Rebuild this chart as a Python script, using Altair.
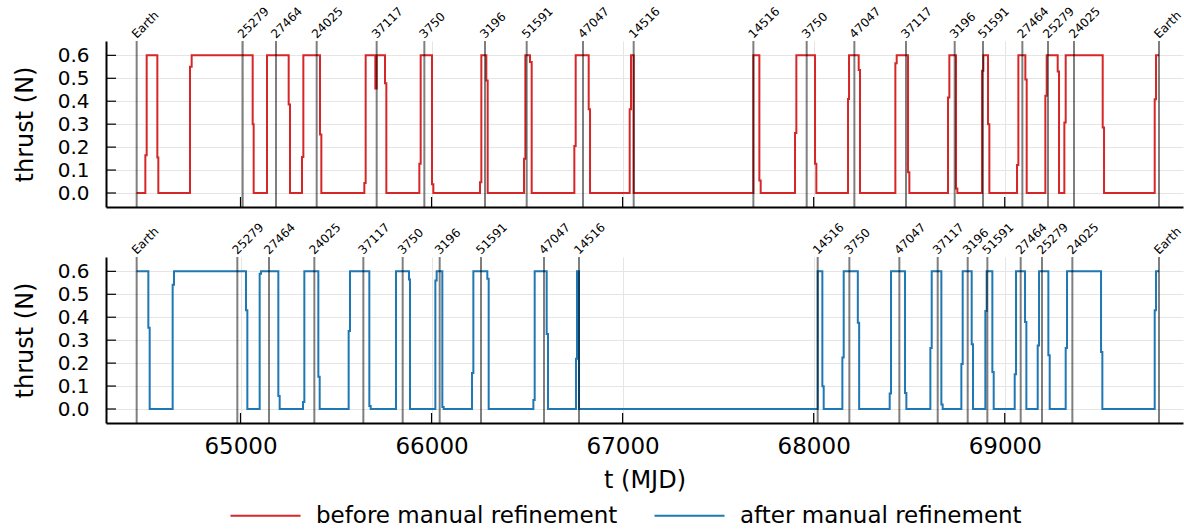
import altair as alt
import pandas as pd

# Thrust profiles as step breakpoints: thrust holds from each time until the next one
red_t = [64456.5, 64501.9, 64508.9, 64564.7, 64569.9, 64735.7, 64744.4, 65063.7, 65068.9,
         65138.7, 65252.1, 65259.1, 65321.9, 65328.9, 65416.1, 65423.1, 65648.1, 65655.1,
         65705.7, 65712.7, 65756.3, 65763.3, 65936.0, 65943.0, 66002.3, 66009.3, 66253.6,
         66260.5, 66286.7, 66293.7, 66483.9, 66490.9, 66515.3, 66524.0, 66747.3, 66754.3,
         66822.4, 66829.4, 67037.0, 67043.9, 67057.9, 67684.3, 67715.7, 67722.6, 67902.3,
         67909.3, 68007.0, 68014.0, 68179.7, 68185.0, 68235.6, 68242.5, 68427.5, 68434.5,
         68493.8, 68500.8, 68703.1, 68710.1, 68745.0, 68752.0, 68881.1, 68888.1, 68912.5,
         68919.5, 69064.3, 69071.3, 69107.9, 69114.9, 69212.6, 69219.6, 69277.2, 69284.1,
         69312.0, 69319.0, 69512.7, 69519.7, 69784.9, 69791.8, 69807.5]
red_f = [0, 0.165, 0.6, 0.155, 0, 0.55, 0.6, 0.30, 0,
         0.6, 0.386, 0, 0.157, 0.6, 0.255, 0, 0.044, 0.6,
         0.456, 0.6, 0.478, 0, 0.128, 0.6, 0.038, 0, 0.047,
         0.6, 0.49, 0, 0.149, 0.6, 0.571, 0, 0.205, 0.6,
         0.365, 0, 0.365, 0.6, 0, 0.6, 0.055, 0, 0.262,
         0.6, 0.128, 0, 0.41, 0.6, 0.536, 0, 0.565, 0.6,
         0.09, 0, 0.416, 0.6, 0.02, 0, 0.533, 0.6, 0.30,
         0, 0.122, 0.6, 0.495, 0, 0.424, 0.6, 0.53, 0,
         0.307, 0.6, 0.285, 0, 0.409, 0.6, 0.6]

blue_t = [64456.5, 64517.6, 64524.6, 64644.9, 64651.9, 65028.8, 65035.8, 65100.3, 65107.3,
          65198.0, 65205.0, 65327.1, 65334.1, 65407.4, 65414.4, 65566.1, 65573.1, 65674.3,
          65681.3, 65813.9, 65881.9, 65887.2, 66019.8, 66026.7, 66056.4, 66063.4, 66211.7,
          66218.7, 66291.9, 66298.9, 66532.8, 66539.7, 66602.5, 66609.5, 66756.1, 66761.3,
          66771.8, 68021.0, 68045.4, 68052.4, 68150.1, 68157.1, 68231.0, 68238.0, 68397.8,
          68404.8, 68478.1, 68485.1, 68610.7, 68617.7, 68668.3, 68675.2, 68772.9, 68779.9,
          68827.0, 68834.0, 68898.5, 68905.5, 68935.2, 68942.2, 69052.1, 69059.1, 69106.2,
          69113.2, 69172.5, 69179.5, 69228.3, 69235.3, 69319.0, 69326.0, 69504.0, 69510.9,
          69784.9, 69791.8, 69807.5]
blue_f = [0.6, 0.354, 0, 0.542, 0.6, 0.43, 0, 0.59, 0.6,
          0.057, 0, 0.03, 0.6, 0.141, 0, 0.34, 0.6, 0.013,
          0, 0.6, 0.564, 0, 0.56, 0.6, 0.009, 0, 0.157,
          0.6, 0.568, 0, 0.039, 0.6, 0.327, 0, 0.219, 0.6,
          0, 0.6, 0.099, 0, 0.224, 0.6, 0.376, 0, 0.068,
          0.6, 0.07, 0, 0.266, 0.6, 0.02, 0, 0.196, 0.6,
          0.282, 0, 0.427, 0.6, 0.161, 0, 0.151, 0.6, 0.379,
          0, 0.277, 0.6, 0.234, 0, 0.266, 0.6, 0.248, 0,
          0.43, 0.6, 0.6]

# Encounter epochs (MJD) and bodies
event_names = ["Earth", "25279", "27464", "24025", "37117", "3750", "3196", "51591", "47047",
               "14516", "14516", "3750", "47047", "37117", "3196", "51591", "27464", "25279",
               "24025", "Earth"]
before_events = [64456.5, 65011.3, 65185.8, 65398.7, 65712.7, 65962.2, 66279.7, 66497.9,
                 66792.7, 67057.9, 67684.3, 67963.4, 68212.9, 68483.3, 68738.0, 68886.3,
                 69092.2, 69226.5, 69362.6, 69807.5]
after_events = [64456.5, 64983.4, 65149.2, 65386.4, 65642.9, 65848.8, 66042.5, 66258.8,
                66588.6, 66771.8, 68021.0, 68186.7, 68448.4, 68649.1, 68806.1, 68909.0,
                69083.5, 69195.1, 69353.9, 69807.5]

series_names = ["before manual refinement", "after manual refinement"]
series_colors = ["#d62728", "#1f77b4"]

x_ticks = [65000, 66000, 67000, 68000, 69000]
y_ticks = [0.0, 0.1, 0.2, 0.3, 0.4, 0.5, 0.6]

X_DOMAIN = [64296, 69933]
Y_DOMAIN = [-0.061, 0.6625]
W, H = 1077, 166
FONT = "DejaVu Sans"

xscale = alt.Scale(domain=X_DOMAIN, nice=False, zero=False)
yscale = alt.Scale(domain=Y_DOMAIN, nice=False, zero=False)
color_scale = alt.Scale(domain=series_names, range=series_colors)

legend = alt.Legend(
    orient="none", legendX=148, legendY=463, direction="horizontal", title=None,
    symbolType="M-7,0L7,0", symbolSize=100, symbolStrokeWidth=2,
    labelFontSize=23, labelFont=FONT, labelOffset=39, labelLimit=0, columnPadding=32,
    labelColor="black",
)


def make_x_axis(show):
    return alt.Axis(
        values=x_ticks, format="d", grid=True, gridColor="#e5e5e5", gridWidth=1,
        ticks=False, domain=True, domainColor="black", domainWidth=2,
        labels=show, labelFontSize=23, labelFont=FONT, labelPadding=12,
        labelColor="black",
        title="t (MJD)" if show else "", titleFontSize=24, titleFont=FONT,
        titleFontWeight="normal", titlePadding=10, titleColor="black",
    )


y_axis = alt.Axis(
    values=y_ticks, format=".1f", grid=True, gridColor="#e5e5e5", gridWidth=1,
    ticks=False, domain=True, domainColor="black", domainWidth=2,
    labelFontSize=20, labelFont=FONT, labelPadding=17, labelColor="black",
    title="thrust (N)", titleFontSize=24, titleFont=FONT, titleFontWeight="normal",
    titlePadding=20, titleColor="black",
)


def panel(times, thrust, name, events, show_x):
    line_df = pd.DataFrame({"t": times, "thrust": thrust, "series": name})
    ev_df = pd.DataFrame({"t": events, "body": event_names})
    xt_df = pd.DataFrame({"t": x_ticks})
    yt_df = pd.DataFrame({"thrust": y_ticks})
    x_axis = make_x_axis(show_x)

    base_line = alt.Chart(line_df).mark_line(
        interpolate="step-after", strokeWidth=2
    ).encode(
        x=alt.X("t:Q", scale=xscale, axis=x_axis),
        y=alt.Y("thrust:Q", scale=yscale, axis=y_axis),
        color=alt.Color("series:N", scale=color_scale, legend=legend),
    )

    rules = alt.Chart(ev_df).mark_rule(color="black", opacity=0.5, strokeWidth=2).encode(
        x=alt.X("t:Q", scale=xscale, axis=x_axis),
    )

    labels = alt.Chart(ev_df).mark_text(
        angle=315, align="left", baseline="alphabetic", fontSize=12, font=FONT,
        color="black",
    ).encode(
        x=alt.X("t:Q", scale=xscale, axis=x_axis),
        y=alt.value(-2),
        text="body:N",
    )

    # inward-pointing tick marks on both axes
    xt = alt.Chart(xt_df).mark_rule(color="black", strokeWidth=1.2).encode(
        x=alt.X("t:Q", scale=xscale, axis=x_axis),
        y=alt.value(H),
        y2=alt.value(H - 10),
    )
    yt = alt.Chart(yt_df).mark_rule(color="black", strokeWidth=1.2).encode(
        y=alt.Y("thrust:Q", scale=yscale, axis=y_axis),
        x=alt.value(0),
        x2=alt.value(10),
    )

    return alt.layer(base_line, rules, xt, yt, labels).properties(width=W, height=H)


top = panel(red_t, red_f, series_names[0], before_events, show_x=False)
bottom = panel(blue_t, blue_f, series_names[1], after_events, show_x=True)

chart = alt.vconcat(top, bottom, spacing=50, bounds="flush").properties(
    padding={"left": 13, "top": 4, "right": 0, "bottom": 0}
).configure(font=FONT).configure_view(stroke=None)

chart.save("out.html", embed_options={"renderer": "svg", "actions": False})
